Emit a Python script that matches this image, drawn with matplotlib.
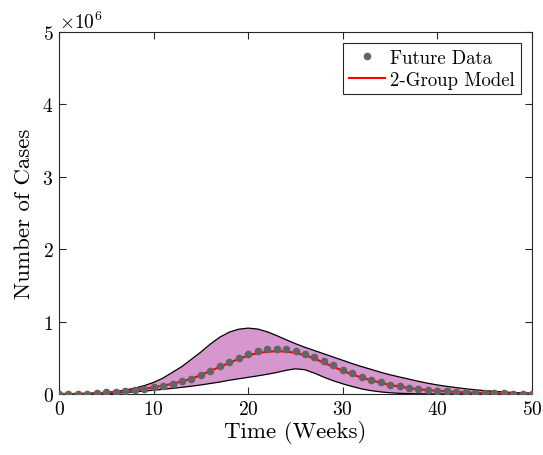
import numpy as np
import matplotlib
matplotlib.use("Agg")
import matplotlib.pyplot as plt

plt.rcParams["font.family"] = "serif"
plt.rcParams["font.serif"] = ["cmr10"]
plt.rcParams["mathtext.fontset"] = "cm"
plt.rcParams["axes.formatter.use_mathtext"] = True
plt.rcParams["axes.unicode_minus"] = False

# Weekly case counts (millions of cases)
weeks = np.arange(0, 51)
future_data = [0.0, 0.001, 0.003, 0.005, 0.01, 0.022, 0.032, 0.046, 0.06, 0.074,
               0.093, 0.116, 0.143, 0.176, 0.208, 0.266, 0.32, 0.38, 0.44, 0.495,
               0.546, 0.588, 0.616, 0.625, 0.616, 0.593, 0.556, 0.505, 0.449, 0.394,
               0.338, 0.287, 0.236, 0.199, 0.162, 0.13, 0.106, 0.088, 0.069, 0.056,
               0.046, 0.037, 0.028, 0.023, 0.019, 0.014, 0.009, 0.008, 0.005, 0.004,
               0.004]
model = [0.0, 0.001, 0.003, 0.006, 0.011, 0.018, 0.028, 0.04, 0.055, 0.072,
         0.092, 0.115, 0.142, 0.174, 0.21, 0.262, 0.318, 0.375, 0.43, 0.485,
         0.53, 0.565, 0.583, 0.59, 0.585, 0.57, 0.535, 0.49, 0.43, 0.375,
         0.32, 0.27, 0.225, 0.19, 0.155, 0.125, 0.102, 0.083, 0.067, 0.054,
         0.044, 0.035, 0.028, 0.022, 0.017, 0.013, 0.01, 0.008, 0.006, 0.004,
         0.003]
band_upper = [0.0, 0.002, 0.004, 0.008, 0.014, 0.022, 0.035, 0.055, 0.08, 0.115,
              0.16, 0.22, 0.30, 0.38, 0.48, 0.58, 0.69, 0.785, 0.855, 0.895,
              0.91, 0.897, 0.86, 0.807, 0.75, 0.695, 0.645, 0.60, 0.555, 0.51,
              0.465, 0.42, 0.378, 0.34, 0.30, 0.265, 0.235, 0.205, 0.175, 0.148,
              0.125, 0.105, 0.088, 0.072, 0.058, 0.046, 0.036, 0.028, 0.021, 0.016,
              0.012]
band_lower = [0.0, 0.0, 0.001, 0.002, 0.003, 0.005, 0.012, 0.02, 0.03, 0.04,
              0.052, 0.065, 0.078, 0.092, 0.108, 0.125, 0.145, 0.165, 0.19, 0.21,
              0.23, 0.25, 0.272, 0.297, 0.327, 0.348, 0.335, 0.288, 0.232, 0.182,
              0.14, 0.103, 0.07, 0.046, 0.029, 0.017, 0.009, 0.005, 0.002, 0.001,
              0.0, 0.0, 0.0, 0.0, 0.0, 0.0, 0.0, 0.0, 0.0, 0.0, 0.0]

scale = 1e6
fd = np.array(future_data) * scale
md = np.array(model) * scale
up = np.array(band_upper) * scale
lo = np.array(band_lower) * scale

fig = plt.figure(figsize=(5.43, 4.56), dpi=100)
ax = fig.add_axes([0.1087, 0.1338, 0.8710, 0.7938])

ax.fill_between(weeks, lo, up, facecolor="#D597CE", edgecolor="none", zorder=1)
ax.plot(weeks, up, color="black", lw=0.9, zorder=2)
ax.plot(weeks, lo, color="black", lw=0.9, zorder=2)
ax.plot(weeks, fd, "o", color="#646464", ms=5.5, mec="none",
        label="Future Data", zorder=4)
ax.plot(weeks, md, color="#FF0000", lw=1.5, label="2-Group Model", zorder=3)

ax.set_xlim(0, 50)
ax.set_ylim(0, 5e6)
ax.set_xticks([0, 10, 20, 30, 40, 50])
ax.set_yticks([0, 1e6, 2e6, 3e6, 4e6, 5e6])

ax.set_xlabel("Time (Weeks)", fontsize=16.5, labelpad=2)
ax.set_ylabel("Number of Cases", fontsize=16.5, labelpad=6)

ax.tick_params(direction="in", top=True, right=True, length=5,
               width=0.8, labelsize=14, color="#262626", pad=4)
for s in ax.spines.values():
    s.set_color("#262626")
    s.set_linewidth(0.8)
ax.yaxis.get_offset_text().set_fontsize(14)

leg = ax.legend(loc="upper right", fontsize=13.5, numpoints=1,
                fancybox=False, framealpha=1, edgecolor="#262626",
                handlelength=1.9, handletextpad=0.3, borderpad=0.3,
                labelspacing=0.2, borderaxespad=0.6)
leg.get_frame().set_linewidth(0.8)

fig.savefig("out.png", dpi=100)
